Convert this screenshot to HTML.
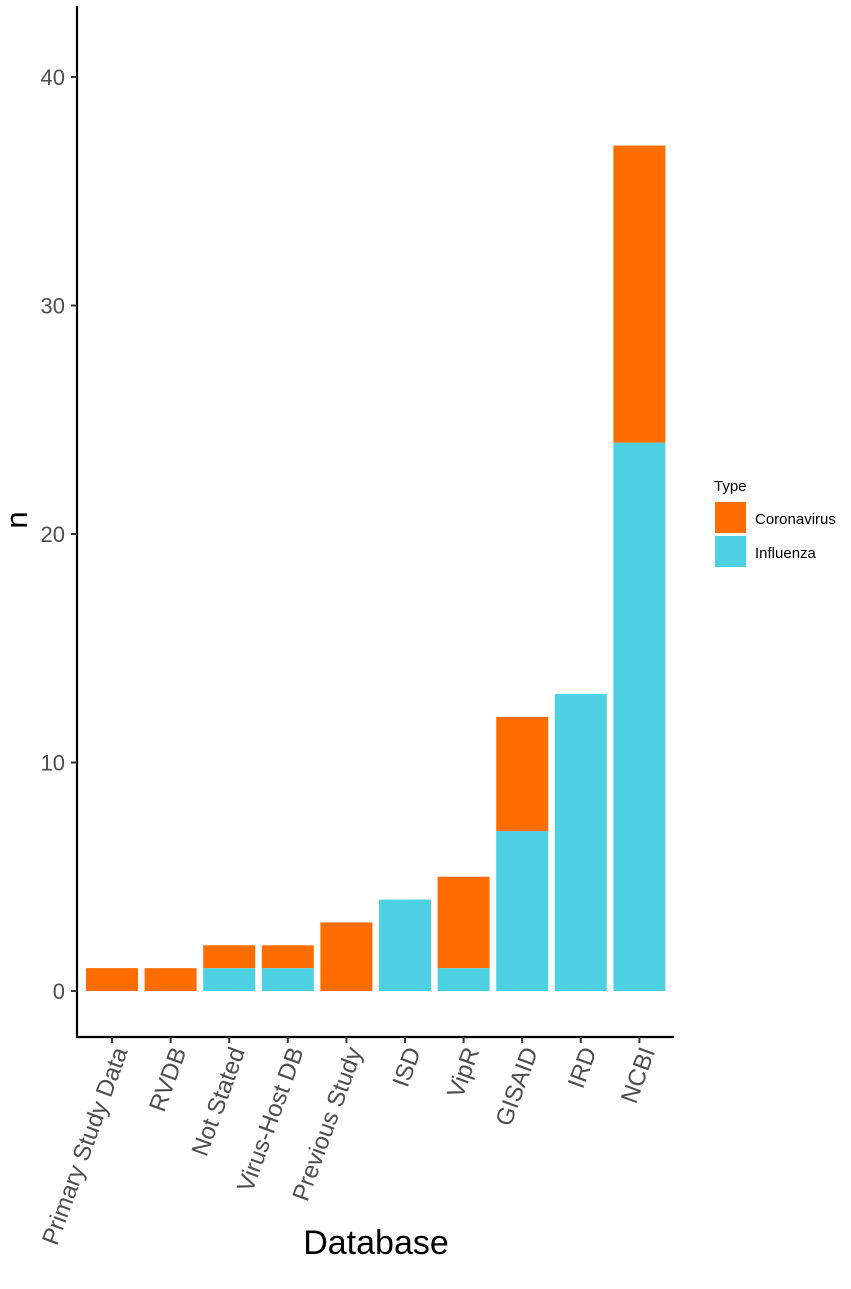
<!DOCTYPE html>
<html><head><meta charset="utf-8"><style>
html,body{margin:0;padding:0;background:#fff;}
svg{display:block;font-family:"Liberation Sans",Arial,sans-serif;}
</style></head><body>
<svg id="chart" width="851" height="1289" viewBox="0 0 851 1289">
<g id="plot"></g>
<line x1="77" y1="6" x2="77" y2="1038" stroke="#000" stroke-width="2.2"/>
<line x1="76" y1="1037" x2="674" y2="1037" stroke="#000" stroke-width="2.2"/>
<text x="0" y="0" transform="translate(27,520) rotate(-90)" text-anchor="middle" font-size="31" fill="#000">n</text>
<text x="376" y="1254" text-anchor="middle" font-size="34" fill="#000">Database</text>
<g>
<text x="714" y="491" font-size="15" fill="#000">Type</text>
<rect x="715" y="502" width="31" height="31" fill="#FF6D00"/>
<text x="755" y="524" font-size="15" fill="#000">Coronavirus</text>
<rect x="715" y="536" width="31" height="31" fill="#4DD0E1"/>
<text x="755" y="558" font-size="15" fill="#000">Influenza</text>
</g>
</svg>
<script>
const categories = ["Primary Study Data","RVDB","Not Stated","Virus-Host DB","Previous Study","ISD","VipR","GISAID","IRD","NCBI"];
const influenza = [0,0,1,1,0,4,1,7,13,24];
const coronavirus = [1,1,1,1,3,0,4,5,0,13];
const yTicks = [0,10,20,30,40];
const NS="http://www.w3.org/2000/svg";
const svg=document.getElementById('chart');
const plot=document.getElementById('plot');
const y0=991, pxPerUnit=22.85;
function yScale(v){return y0 - v*pxPerUnit;}
function xScale(i){return 112 + i*58.6;}
const bw=52;
function mk(tag,attrs,parent){const e=document.createElementNS(NS,tag);for(const k in attrs)e.setAttribute(k,attrs[k]);(parent||svg).appendChild(e);return e;}
categories.forEach((c,i)=>{
  const cx=xScale(i);
  const inf=influenza[i], cor=coronavirus[i];
  if(inf>0){
    const r=mk('rect',{x:cx-bw/2,y:yScale(inf),width:bw,height:yScale(0)-yScale(inf),fill:'#4DD0E1'},plot);
    
    
  }
  if(cor>0){
    const r=mk('rect',{x:cx-bw/2,y:yScale(inf+cor),width:bw,height:yScale(inf)-yScale(inf+cor),fill:'#FF6D00'},plot);
    
    
  }
  const t=mk('line',{x1:cx,y1:1037,x2:cx,y2:1043,stroke:'#333','stroke-width':2});
  
  
  const lb=mk('text',{transform:'translate('+(cx+16)+',1051) rotate(-70)','text-anchor':'end','font-size':24,fill:'#4d4d4d'});
  lb.textContent=c;
  
  
});
yTicks.forEach(v=>{
  const y=yScale(v);
  const t=mk('line',{x1:71,y1:y,x2:77,y2:y,stroke:'#333','stroke-width':2});
  
  
  const lb=mk('text',{x:65,y:y+8,'text-anchor':'end','font-size':22,fill:'#4d4d4d'});
  lb.textContent=v;
  
  
});
</script>
</body></html>
